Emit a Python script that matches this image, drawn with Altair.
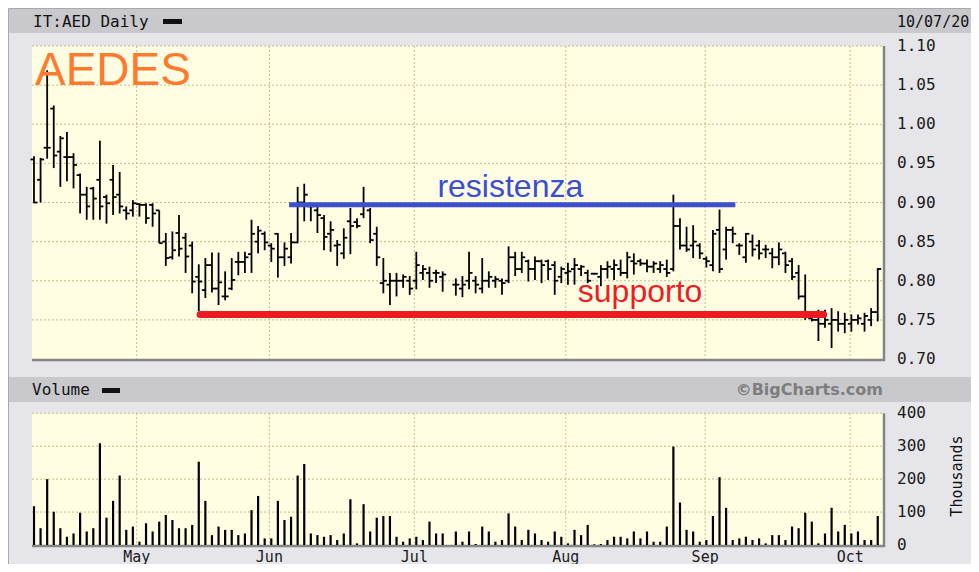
import altair as alt
import pandas as pd

# ---------------- data ----------------
HIGH = [0.959, 0.957, 1.069, 1.024, 0.985, 0.990, 0.963, 0.937, 0.920, 0.920,
        0.979, 0.910, 0.948, 0.939, 0.895, 0.903, 0.899, 0.899, 0.899, 0.890,
        0.861, 0.863, 0.884, 0.861, 0.850, 0.821, 0.829, 0.836, 0.836, 0.812,
        0.829, 0.837, 0.837, 0.878, 0.870, 0.863, 0.848, 0.861, 0.849, 0.861,
        0.920, 0.924, 0.900, 0.895, 0.884, 0.876, 0.852, 0.867, 0.893, 0.880,
        0.920, 0.893, 0.869, 0.829, 0.810, 0.810, 0.808, 0.806, 0.837, 0.820,
        0.818, 0.814, 0.812, None, 0.803, 0.806, 0.837, 0.806, 0.829, 0.812,
        0.806, 0.803, 0.844, 0.837, 0.837, 0.827, 0.831, 0.827, 0.827, 0.825,
        0.818, 0.823, 0.829, 0.820, 0.814, 0.810, 0.820, 0.825, 0.827, 0.827,
        0.837, 0.835, 0.828, 0.827, 0.825, 0.825, 0.827, 0.910, 0.880, 0.869,
        0.871, 0.848, 0.831, 0.865, 0.891, 0.869, 0.869, 0.848, 0.861, 0.859,
        0.852, 0.846, 0.842, 0.849, 0.837, 0.829, 0.820, 0.808, 0.754, 0.763,
        0.763, 0.765, 0.761, 0.759, 0.757, 0.757, 0.759, 0.765, 0.816]
LOW = [0.899, 0.900, 0.956, 0.944, 0.920, 0.927, 0.918, 0.886, 0.878, 0.878,
       0.878, 0.873, 0.884, 0.886, 0.878, 0.882, 0.882, 0.873, 0.869, 0.848,
       0.819, 0.827, 0.831, 0.810, 0.784, 0.761, 0.778, 0.785, 0.769, 0.775,
       0.788, 0.807, 0.810, 0.810, 0.835, 0.839, 0.824, 0.804, 0.819, 0.822,
       0.848, 0.876, 0.876, 0.861, 0.839, 0.837, 0.819, 0.828, 0.834, 0.867,
       0.880, 0.848, 0.819, 0.784, 0.769, 0.780, 0.791, 0.782, 0.789, 0.801,
       0.791, 0.797, 0.786, None, 0.781, 0.779, 0.789, 0.784, 0.784, 0.791,
       0.791, 0.782, 0.797, 0.806, 0.810, 0.799, 0.801, 0.797, 0.801, 0.782,
       0.797, 0.795, 0.795, 0.806, 0.797, 0.808, 0.793, 0.803, 0.801, 0.806,
       0.803, 0.808, 0.819, 0.811, 0.810, 0.810, 0.805, 0.812, 0.840, 0.837,
       0.829, 0.828, 0.817, 0.812, 0.810, 0.827, 0.848, 0.833, 0.823, 0.831,
       0.827, 0.829, 0.816, 0.820, 0.810, 0.801, 0.776, 0.750, 0.748, 0.723,
       0.740, 0.714, 0.735, 0.733, 0.735, 0.744, 0.735, 0.742, 0.748]
OPEN = [0.955, 0.929, 0.970, 1.020, 0.965, 0.958, 0.958, 0.935, 0.910, 0.918,
        0.929, 0.907, 0.929, 0.910, 0.890, 0.890, 0.898, 0.897, 0.897, 0.890,
        0.850, 0.830, 0.861, 0.855, 0.845, 0.805, 0.788, 0.820, 0.790, 0.780,
        0.790, 0.824, 0.824, 0.834, 0.850, 0.860, 0.845, 0.860, 0.830, 0.830,
        0.849, 0.900, 0.895, 0.890, 0.880, 0.860, 0.845, 0.835, 0.876, 0.875,
        0.885, 0.890, 0.860, 0.797, 0.795, 0.800, 0.800, 0.800, 0.800, 0.810,
        0.810, 0.810, 0.805, None, 0.795, 0.790, 0.800, 0.800, 0.790, 0.800,
        0.800, 0.800, 0.800, 0.830, 0.815, 0.825, 0.815, 0.825, 0.825, 0.820,
        0.805, 0.810, 0.815, 0.815, 0.810, 0.809, 0.805, 0.815, 0.815, 0.815,
        0.810, 0.825, 0.825, 0.822, 0.818, 0.815, 0.815, 0.815, 0.870, 0.845,
        0.845, 0.845, 0.828, 0.820, 0.865, 0.840, 0.865, 0.845, 0.830, 0.850,
        0.845, 0.840, 0.835, 0.830, 0.835, 0.825, 0.810, 0.780, 0.752, 0.750,
        0.745, 0.745, 0.750, 0.745, 0.745, 0.750, 0.745, 0.750, 0.760]
CLOSE = [0.900, 0.955, 0.970, 0.960, 0.982, 0.958, 0.948, 0.910, 0.895, 0.905,
         0.895, 0.899, 0.907, 0.895, 0.886, 0.899, 0.897, 0.880, 0.886, 0.848,
         0.829, 0.839, 0.841, 0.831, 0.799, 0.799, 0.820, 0.790, 0.798, 0.780,
         0.801, 0.824, 0.830, 0.860, 0.864, 0.849, 0.841, 0.830, 0.841, 0.849,
         0.900, 0.910, 0.895, 0.884, 0.856, 0.865, 0.846, 0.855, 0.870, 0.870,
         0.897, 0.852, 0.830, 0.800, 0.800, 0.800, 0.805, 0.790, 0.820, 0.815,
         0.800, 0.810, 0.808, None, 0.795, 0.795, 0.810, 0.795, 0.800, 0.805,
         0.802, 0.797, 0.830, 0.815, 0.830, 0.815, 0.825, 0.820, 0.815, 0.800,
         0.815, 0.812, 0.820, 0.818, 0.800, 0.809, 0.815, 0.818, 0.820, 0.810,
         0.830, 0.822, 0.822, 0.818, 0.822, 0.820, 0.810, 0.870, 0.845, 0.840,
         0.850, 0.835, 0.825, 0.860, 0.815, 0.865, 0.860, 0.845, 0.860, 0.840,
         0.835, 0.840, 0.830, 0.840, 0.820, 0.805, 0.780, 0.755, 0.750, 0.745,
         0.750, 0.750, 0.745, 0.750, 0.750, 0.752, 0.755, 0.760, 0.815]
VOLUME = [118, 51, 200, 101, 51, 25, 35, 98, 41, 51,
          309, 83, 134, 211, 46, 56, 10, 66, 41, 71,
          91, 76, 51, 51, 61, 253, 134, 30, 56, 46,
          46, 30, 35, 106, 149, 20, 20, 134, 76, 86,
          211, 246, 35, 30, 25, 30, 15, 35, 139, 5,
          124, 41, 83, 88, 88, 25, 10, 20, 25, 15,
          71, 35, 35, 0, 41, 10, 41, 3, 56, 41,
          10, 15, 96, 56, 15, 46, 35, 15, 10, 41,
          25, 5, 46, 30, 61, 2, 3, 15, 25, 25,
          20, 41, 20, 41, 10, 10, 56, 299, 129, 46,
          41, 10, 15, 88, 206, 113, 15, 20, 25, 15,
          20, 5, 30, 30, 15, 56, 51, 98, 71, 5,
          35, 113, 41, 61, 35, 41, 15, 15, 88]

MONTHS = ["May", "Jun", "Jul", "Aug", "Sep", "Oct"]
MONTH_POS = [15.58, 35.71, 57.71, 80.68, 101.82, 123.82]   # in trading-day index
PRICE_TICKS = [0.70, 0.75, 0.80, 0.85, 0.90, 0.95, 1.00, 1.05, 1.10]
VOLUME_TICKS = [0, 100, 200, 300, 400]

RESISTANCE = [0.897]
RES_SPAN = [38.7, 106.4]
SUPPORT = [0.757]
SUP_SPAN = [25.2, 119.8]

NOTE_TEXT = ["AEDES", "resistenza", "supporto"]
NOTE_IDX = [0.15, 61.2, 82.5]
NOTE_PRICE = [1.050, 0.907, 0.773]

# ---------------- layout / style ----------------
W, H = 851, 313
VOL_TOP, VOL_BOT = 367.3, 499.0
MONO = "DejaVu Sans Mono"
SANS = "Liberation Sans"
BG = "#e6e6ea"
BAND = "#c9c9cd"
YELLOW = "#fffee3"
GRID = "#c6bd88"
EDGE = "#858585"
INK = "#1a1a1a"
NOTE_STYLE = {"AEDES": ("#ff7a2e", 46), "resistenza": ("#3b4fd3", 32),
              "supporto": ("#f01c24", 32)}

bars = pd.DataFrame({"i": list(range(len(HIGH))), "high": HIGH, "low": LOW,
                     "open": OPEN, "close": CLOSE, "vol": VOLUME})
months = pd.DataFrame({"m": MONTH_POS, "label": MONTHS})
pticks = pd.DataFrame({"p": PRICE_TICKS, "label": [f"{p:.2f}" for p in PRICE_TICKS]})
vticks = pd.DataFrame({"v": VOLUME_TICKS, "label": [str(v) for v in VOLUME_TICKS]})
pgrid = pticks[pticks["p"] > PRICE_TICKS[0]]
vgrid = vticks[vticks["v"] > VOLUME_TICKS[0]]
res = pd.DataFrame({"a": [RES_SPAN[0]], "b": [RES_SPAN[1]], "y": RESISTANCE})
sup = pd.DataFrame({"a": [SUP_SPAN[0]], "b": [SUP_SPAN[1]], "y": SUPPORT})
notes = pd.DataFrame({"x": NOTE_IDX, "y": NOTE_PRICE, "t": NOTE_TEXT})
one = pd.DataFrame({"k": [0]})

xs = alt.Scale(domain=[-0.30, 128.8], nice=False, zero=False)
ps = alt.Scale(domain=[0.70, 1.10], nice=False, zero=False)
vs = alt.Scale(domain=[0, 400], range=[VOL_BOT, VOL_TOP], nice=False, zero=False)

X = lambda f: alt.X(f, type="quantitative", scale=xs, axis=None)
PY = lambda f: alt.Y(f, type="quantitative", scale=ps, axis=None)
VY = lambda f: alt.Y(f, type="quantitative", scale=vs, axis=None)


def box(x1, x2, y1, y2, **kw):
    return alt.Chart(one).mark_rect(**kw).encode(
        x=alt.value(x1), x2=alt.value(x2), y=alt.value(y1), y2=alt.value(y2))


def hline(x1, x2, y, **kw):
    return alt.Chart(one).mark_rule(**kw).encode(
        x=alt.value(x1), x2=alt.value(x2), y=alt.value(y))


def vline(x, y1, y2, **kw):
    return alt.Chart(one).mark_rule(**kw).encode(
        x=alt.value(x), y=alt.value(y1), y2=alt.value(y2))


def label(text, x, y, **kw):
    return alt.Chart(one).mark_text(**kw).encode(
        x=alt.value(x), y=alt.value(y), text=alt.value(text))


# panels and frames
frame = box(-23.5, W + 200, -37.5, 600, fill=BG, stroke="#a9a9ad", strokeWidth=1)
band1 = box(-23, W + 200, -37, -13, fill=BAND)
band2 = box(-23, W + 200, 331, 356, fill=BAND)
price_bg = box(0, W, 0, H, fill=YELLOW)
vol_bg = box(0, W, VOL_TOP, VOL_BOT, fill=YELLOW)
edges = [
    hline(0, W + 2, H + 1, color=EDGE, strokeWidth=2.5),
    vline(W + 1, 0, H + 2, color=EDGE, strokeWidth=2.5),
    hline(0, W + 2, VOL_BOT + 1, color=EDGE, strokeWidth=2.5),
    vline(W + 1, VOL_TOP, VOL_BOT + 2, color=EDGE, strokeWidth=2.5),
]

# grids
dotted = dict(color=GRID, strokeWidth=1, strokeDash=[2, 2])
price_grid = alt.Chart(pgrid).mark_rule(**dotted).encode(
    y=PY("p"), x=alt.value(0), x2=alt.value(W))
month_top = alt.Chart(months).mark_rule(**dotted).encode(
    x=X("m"), y=alt.value(0), y2=alt.value(H))
month_bot = alt.Chart(months).mark_rule(**dotted).encode(
    x=X("m"), y=alt.value(VOL_TOP), y2=alt.value(VOL_BOT))
month_lbl = alt.Chart(months).mark_text(font=MONO, fontSize=15, color=INK,
                                        baseline="middle", align="center").encode(
    x=X("m"), y=alt.value(510.5), text="label:N")

# axis labels (right side), placed through the scales
price_lbl = alt.Chart(pticks).mark_text(font=MONO, fontSize=16, color=INK,
                                        align="left", baseline="middle").encode(
    y=PY("p"), x=alt.value(W + 14), text="label:N")

# OHLC bars
hl = alt.Chart(bars).mark_rule(color="black", strokeWidth=1.8).encode(
    x=X("i"), y=PY("low"), y2="high:Q")
op = alt.Chart(bars).mark_rule(color="black", strokeWidth=1.8, xOffset=-3.5).encode(
    x=X("i"), x2="i:Q", y=PY("open"))
cl = alt.Chart(bars).mark_rule(color="black", strokeWidth=1.8, x2Offset=3.5).encode(
    x=X("i"), x2="i:Q", y=PY("close"))

# support / resistance
res_line = alt.Chart(res).mark_rule(color="#3b4fd0", strokeWidth=5).encode(
    x=X("a"), x2="b:Q", y=PY("y"))
sup_line = alt.Chart(sup).mark_rule(color="#ee1a20", strokeWidth=7, strokeCap="round").encode(
    x=X("a"), x2="b:Q", y=PY("y"))

note_layers = [
    alt.Chart(notes).transform_filter(alt.datum.t == name)
    .mark_text(font=SANS, align="left", baseline="alphabetic",
               color=NOTE_STYLE[name][0], fontSize=NOTE_STYLE[name][1])
    .encode(x=X("x"), y=PY("y"), text="t:N")
    for name in NOTE_TEXT
]

# header texts
head = [
    label("IT:AED Daily", 1, -24, font=MONO, fontSize=16, color="#111111",
          align="left", baseline="middle"),
    box(131, 150, -27, -22, fill="#111111"),
    label("10/07/20", 865, -24, font=MONO, fontSize=15, color="#111111",
          align="left", baseline="middle"),
    label("Volume", 0, 344, font=MONO, fontSize=16, color="#111111",
          align="left", baseline="middle"),
    box(70, 88, 342, 347, fill="#111111"),
    label("\u00a9BigCharts.com", W, 344, font="DejaVu Sans", fontWeight="bold",
          fontSize=16, color="#7d7d7d", align="right", baseline="middle"),
    label("Thousands", 925, 430, font=MONO, fontSize=15, color="#111111",
          align="center", baseline="middle", angle=270),
]

# volume group (own y scale)
vol_grid = alt.Chart(vgrid).mark_rule(**dotted).encode(
    y=VY("v"), x=alt.value(0), x2=alt.value(W))
vol_bars = alt.Chart(bars).mark_rule(color="black", strokeWidth=2.2).encode(
    x=X("i"), y=VY("vol"), y2=alt.datum(0))
vol_lbl = alt.Chart(vticks).mark_text(font=MONO, fontSize=16, color=INK,
                                      align="left", baseline="middle").encode(
    y=VY("v"), x=alt.value(W + 14), text="label:N")

price_group = alt.layer(frame, band1, band2, price_bg, vol_bg, *edges,
                        price_grid, month_top, month_bot, month_lbl, price_lbl,
                        hl, op, cl, res_line, sup_line, *note_layers, *head)
vol_group = alt.layer(vol_grid, vol_bars, vol_lbl)

chart = (
    alt.layer(price_group, vol_group)
    .resolve_scale(y="independent")
    .properties(width=W, height=H,
                autosize=alt.AutoSizeParams(type="none"),
                padding={"left": 24, "top": 38, "right": 88, "bottom": 205},
                background=BG)
    .configure_view(stroke=None)
)

chart.save("out.html", embed_options={"renderer": "svg", "actions": False})
